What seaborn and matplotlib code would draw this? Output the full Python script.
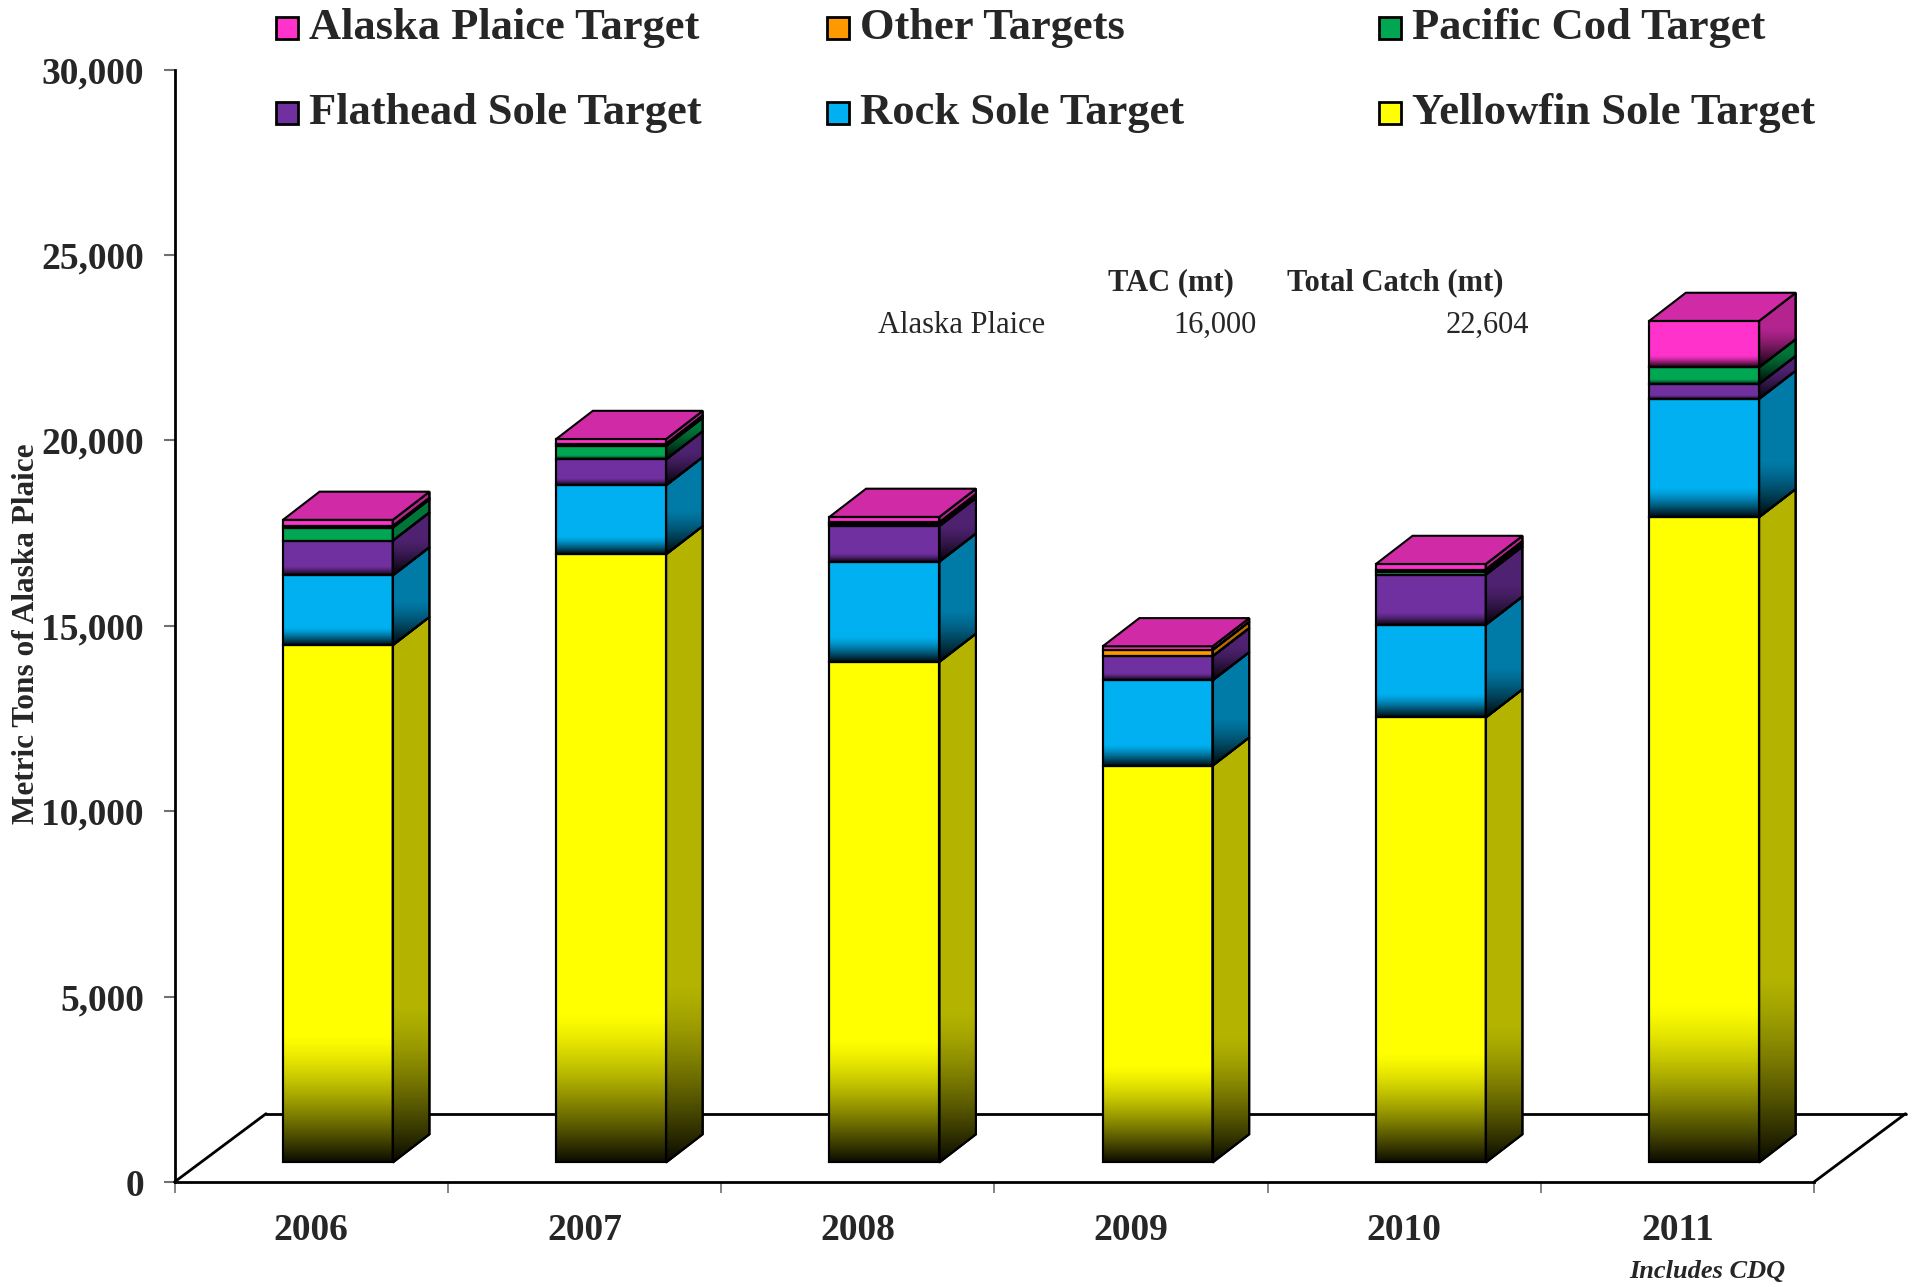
import numpy as np
import pandas as pd
import matplotlib
matplotlib.use("Agg")
import matplotlib.pyplot as plt
import seaborn as sns
from matplotlib.patches import Polygon, Rectangle
from matplotlib.colors import to_rgb, LinearSegmentedColormap

# Data (metric tons)
years = ['2006', '2007', '2008', '2009', '2010', '2011']
yellowfin = [13950, 16400, 13500, 10700, 12000, 17400]
rock_sole = [1880, 1860, 2700, 2300, 2500, 3190]
flathead = [940, 700, 960, 650, 1350, 400]
pacific_cod = [350, 360, 60, 0, 80, 450]
other = [40, 60, 40, 170, 60, 0]
plaice = [170, 130, 150, 100, 150, 1254]

# stacking order, bottom to top
series_names = ['Yellowfin Sole Target', 'Rock Sole Target', 'Flathead Sole Target',
                'Pacific Cod Target', 'Other Targets', 'Alaska Plaice Target']
series_colors = ['#FFFF00', '#00B0F0', '#7030A0', '#00A651', '#FF9900', '#FF33CC']
legend_rows = [['Alaska Plaice Target', 'Other Targets', 'Pacific Cod Target'],
               ['Flathead Sole Target', 'Rock Sole Target', 'Yellowfin Sole Target']]

tac_species = 'Alaska Plaice'
tac_value = '16,000'
total_catch = '22,604'

sns.set_style('white')
plt.rcParams['font.family'] = ['Liberation Serif', 'DejaVu Serif']

W, H = 1913, 1287
fig = plt.figure(figsize=(W / 100, H / 100), dpi=100)
ax = fig.add_axes([174.5 / W, 1 - 1182 / H, (1814 - 174.5) / W, (1182 - 69.5) / H])


def darker(c, f):
    r, g, b = to_rgb(c)
    return (r * f, g * f, b * f)


pos = np.arange(len(years))
# pseudo-3D geometry (data units)
front_dx, front_dy = 0.098, 526
depth_dx, depth_dy = 0.134, 760
floor_dx, floor_dy = 0.335, 1842
bar_w = 0.402

data = np.array([yellowfin, rock_sole, flathead, pacific_cod, other, plaice], dtype=float)
bottoms = np.vstack([np.zeros(len(years)), np.cumsum(data, axis=0)[:-1]])

# floor outline
x0, x1 = -0.5, len(years) - 0.5
ax.plot([x1, x1 + floor_dx], [0, floor_dy], color='black', lw=2, clip_on=False, zorder=1)
ax.plot([x0, x0 + floor_dx], [0, floor_dy], color='black', lw=2, clip_on=False, zorder=1)
ax.plot([x0 + floor_dx, x1 + floor_dx], [floor_dy, floor_dy], color='black', lw=2,
        clip_on=False, zorder=1)

# front faces
for i, (name, col) in enumerate(zip(series_names, series_colors)):
    df = pd.DataFrame({'x': pos + front_dx, 'y': data[i]})
    sns.barplot(data=df, x='x', y='y', native_scale=True, width=bar_w, color=col,
                saturation=1, errorbar=None, bottom=front_dy + bottoms[i],
                edgecolor='black', linewidth=1.5, ax=ax, zorder=3)

shade = LinearSegmentedColormap.from_list('shade', [(0, 0, 0, 0), (0, 0, 0, 0.95)])
grad = np.linspace(1, 0, 80).reshape(-1, 1) ** 1.4

for i, col in enumerate(series_colors):
    for j in range(len(years)):
        v = data[i, j]
        if v <= 0:
            continue
        xl = pos[j] + front_dx - bar_w / 2
        xr = xl + bar_w
        b = front_dy + bottoms[i, j]
        t = b + v
        side = Polygon([(xr, b), (xr + depth_dx, b + depth_dy), (xr + depth_dx, t + depth_dy), (xr, t)],
                       closed=True, fc=darker(col, 0.7), ec='black', lw=1.5, zorder=3)
        ax.add_patch(side)
        if v > 350:
            gh = 0.25 * v
            ax.imshow(grad, extent=[xl, xr, b, b + gh], origin='lower', cmap=shade,
                      vmin=0, vmax=1, aspect='auto', interpolation='bilinear', zorder=3.2)
            im = ax.imshow(grad, extent=[xr, xr + depth_dx, b, b + gh + depth_dy], origin='lower',
                           cmap=shade, vmin=0, vmax=1, aspect='auto', interpolation='bilinear',
                           zorder=3.2)
            im.set_clip_path(side)
        # redraw outline on top of shading
        ax.add_patch(Rectangle((xl, b), bar_w, v, fill=False, ec='black', lw=1.5, zorder=3.4))
        ax.add_patch(Polygon(side.get_xy(), closed=True, fill=False, ec='black', lw=1.5, zorder=3.4))

# top faces
for j in range(len(years)):
    nz = np.nonzero(data[:, j])[0]
    top_i = nz[-1]
    xl = pos[j] + front_dx - bar_w / 2
    xr = xl + bar_w
    T = front_dy + data[:, j].sum()
    ax.add_patch(Polygon([(xl, T), (xl + depth_dx, T + depth_dy), (xr + depth_dx, T + depth_dy), (xr, T)],
                         closed=True, fc=darker(series_colors[top_i], 0.82), ec='black', lw=1.5,
                         zorder=3.5))

ax.set_xlim(x0, x1)
ax.set_ylim(0, 30000)
ax.set_xlabel('')
ax.set_ylabel('')
sns.despine(ax=ax)
ax.spines['left'].set_color('black')
ax.spines['left'].set_linewidth(2)
ax.spines['bottom'].set_color('black')
ax.spines['bottom'].set_linewidth(2)

yt = np.arange(0, 30001, 5000)
ax.set_yticks(yt)
ax.set_yticklabels([f'{v:,}' for v in yt], fontsize=27, fontweight='bold')
ax.set_xticks(pos)
ax.set_xticklabels(years, fontsize=27, fontweight='bold')
ax.set_xticks(np.arange(x0, x1 + 0.01, 1), minor=True)
ax.tick_params(axis='y', left=True, length=8, width=1.5, color='#707070', pad=14)
ax.tick_params(axis='x', which='major', bottom=True, length=0, pad=22)
ax.tick_params(axis='x', which='minor', bottom=True, length=8, width=1.2, color='#707070')

fig.text(27 / W, 1 - 634 / H, 'Metric Tons of Alaska Plaice', rotation=90, ha='center', va='center',
         fontsize=22.5, fontweight='bold')

# legend (three columns, reading order)
col_x = [276, 827, 1379]
row_y = [28, 113]
for r, row in enumerate(legend_rows):
    for c, name in enumerate(row):
        col = series_colors[series_names.index(name)]
        fig.add_artist(Rectangle(((col_x[c]) / W, 1 - (row_y[r] + 11) / H), 22 / W, 22 / H,
                                 transform=fig.transFigure, fc=col, ec='black', lw=2))
        fig.text((col_x[c] + 33) / W, 1 - row_y[r] / H, name, ha='left', va='center',
                 fontsize=32, fontweight='bold')

# TAC table
fig.text(1171 / W, 1 - 283 / H, 'TAC (mt)', ha='center', va='center', fontsize=22, fontweight='bold')
fig.text(1395 / W, 1 - 283 / H, 'Total Catch (mt)', ha='center', va='center', fontsize=22,
         fontweight='bold')
fig.text(878 / W, 1 - 325 / H, tac_species, ha='left', va='center', fontsize=22)
fig.text(1257 / W, 1 - 325 / H, tac_value, ha='right', va='center', fontsize=22)
fig.text(1529 / W, 1 - 325 / H, total_catch, ha='right', va='center', fontsize=22)

fig.text(1707 / W, 1 - 1272 / H, 'Includes CDQ', ha='center', va='center', fontsize=19,
         fontweight='bold', style='italic')

fig.savefig('out.png', dpi=100)
